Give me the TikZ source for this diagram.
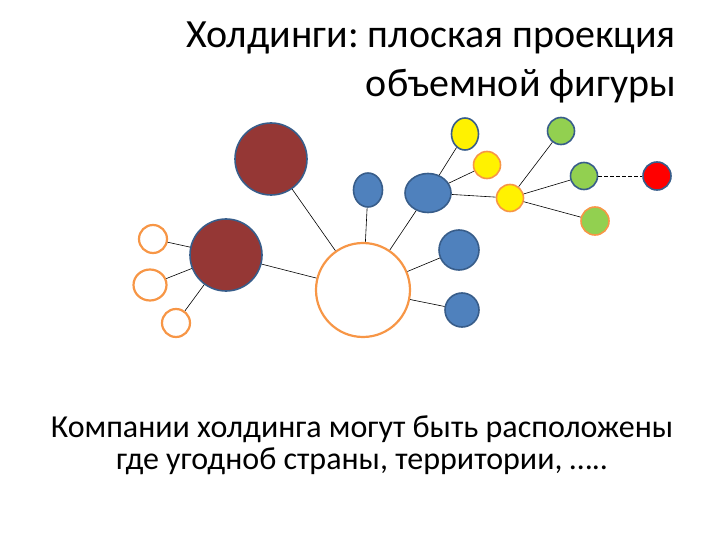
\documentclass[tikz,border=0pt]{standalone}
\usepackage{fontspec}
\setmainfont{Carlito}
\frenchspacing
\usetikzlibrary{shapes.geometric}

\definecolor{rim}{HTML}{385D8A}
\definecolor{brick}{HTML}{953735}
\definecolor{steel}{HTML}{4F81BD}
\definecolor{amber}{HTML}{F79646}
\definecolor{lime}{HTML}{92D050}

\tikzset{
  firm/.style     = {circle, draw=rim, line width=1.6pt, inner sep=0pt},
  oval/.style     = {ellipse, draw=rim, line width=1.6pt, inner sep=0pt},
  open/.style     = {circle, draw=amber, line width=2.2pt, fill=white, inner sep=0pt},
  link/.style     = {draw=black, line width=0.6pt},
  caption/.style  = {font=\fontsize{40}{48}\selectfont, inner sep=0pt},
  remark/.style   = {font=\fontsize{32}{38}\selectfont, inner sep=0pt},
}

\begin{document}
\begin{tikzpicture}[x=1pt, y=-1pt]

  \useasboundingbox (0,0) rectangle (720,540);

  % Titles
  \node[caption, anchor=base east] (title1) at (676,48) {Холдинги: плоская проекция};
  \node[caption, anchor=base east] (title2) at (676,97) {объемной фигуры};

  % Define nodes
  \node[open, minimum size=94pt]                    (core)   at (363,290) {};
  \node[firm, fill=brick, minimum size=72pt]        (brownA) at (271,159) {};
  \node[firm, fill=brick, minimum size=72pt]        (brownB) at (226,255) {};
  \node[open, minimum size=28pt]                    (smallA) at (153,239) {};
  \node[open, ellipse, minimum width=33pt, minimum height=31pt] (smallB) at (150,285) {};
  \node[open, minimum size=28pt]                    (smallC) at (176,323) {};
  \node[oval, fill=steel, minimum width=29pt, minimum height=34pt] (blueA) at (368,190) {};
  \node[oval, fill=steel, minimum width=46pt, minimum height=39pt] (blueB) at (428,193) {};
  \node[firm, fill=steel, minimum size=40pt]        (blueC)  at (459,250) {};
  \node[firm, fill=steel, minimum size=34pt]        (blueD)  at (462,310) {};
  \node[oval, fill=yellow, minimum width=27pt, minimum height=32pt] (yelA) at (465,134) {};
  \node[firm, draw=amber, fill=yellow, minimum size=27pt] (yelB) at (487,165) {};
  \node[firm, draw=amber, fill=yellow, minimum size=27pt] (yelC) at (510,198) {};
  \node[firm, fill=lime, minimum size=27pt]         (grnA)   at (561,131) {};
  \node[firm, fill=lime, minimum size=27pt]         (grnB)   at (584,176) {};
  \node[firm, draw=amber, fill=lime, minimum size=28pt] (grnC) at (595,221) {};
  \node[firm, fill=red, minimum size=28pt]          (redA)   at (657,176) {};

  % Connect the nodes
  \draw[link] (brownA) -- (core);
  \draw[link] (brownB) -- (core);
  \draw[link] (brownB) -- (smallA);
  \draw[link] (brownB) -- (smallB);
  \draw[link] (brownB) -- (smallC);
  \draw[link] (blueA) -- (core);
  \draw[link] (blueB) -- (core);
  \draw[link] (blueC) -- (core);
  \draw[link] (blueD) -- (core);
  \draw[link] (blueB) -- (yelA);
  \draw[link] (blueB) -- (yelB);
  \draw[link] (blueB) -- (yelC);
  \draw[link] (yelC) -- (grnA);
  \draw[link] (yelC) -- (grnB);
  \draw[link] (yelC) -- (grnC);
  \draw[link, dash pattern=on 4pt off 2pt] (grnB) -- (redA);

  % Bottom text
  \node[remark, anchor=base] (note1) at (362,437) {Компании холдинга могут быть расположены};
  \node[remark, anchor=base] (note2) at (362,469) {где угодноб страны, территории, …..};

\end{tikzpicture}
\end{document}
